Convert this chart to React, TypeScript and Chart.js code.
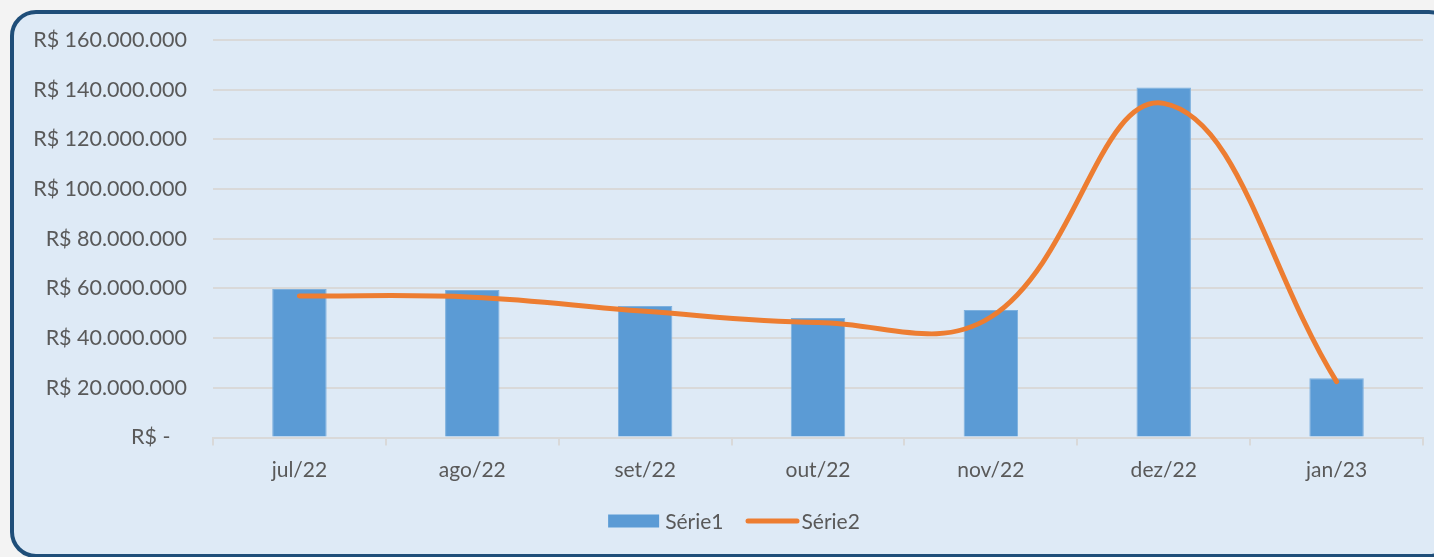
import React, { useEffect, useRef } from "react";
import { Chart, registerables } from "chart.js";

Chart.register(...registerables);

const categories = ["jul/22", "ago/22", "set/22", "out/22", "nov/22", "dez/22", "jan/23"];
const serie1 = [59.8e6, 59.4e6, 52.9e6, 48.1e6, 51.3e6, 140.9e6, 23.8e6];
const serie2 = [57.0e6, 56.5e6, 50.8e6, 46.3e6, 48.5e6, 134.5e6, 22.5e6];
const seriesNames = ["Série1", "Série2"];
const yMin = 0;
const yMax = 160e6;
const yStep = 20e6;

const FONT = "Lato, 'Open Sans', sans-serif";
const TEXT = "#595959";
const GRID = "#D9D9D9";
const BAR = "#5B9BD5";
const LINE = "#ED7D31";

function fmt(v: number): string {
  if (v === 0) return "R$ -   ";
  return "R$ " + Math.round(v).toString().replace(/\B(?=(\d{3})+(?!\d))/g, ".");
}

const legendPlugin = {
  id: "excelLegend",
  afterDraw(chart: any) {
    const ctx = chart.ctx;
    const ds = chart.data.datasets;
    const bar = ds.find((d: any) => d.type === "bar");
    const line = ds.find((d: any) => d.type === "line");
    ctx.save();
    ctx.font = `21px ${FONT}`;
    ctx.textBaseline = "middle";
    ctx.fillStyle = TEXT;
    const y = 521;
    const boxW = 51;
    const lineW = 54;
    const gapText = 6;
    const gapItems = 22;
    const t1 = ctx.measureText(bar.label).width;
    const t2 = ctx.measureText(line.label).width;
    const total = boxW + gapText + t1 + gapItems + lineW + gapText + t2;
    let x = 736 - total / 2;
    ctx.fillStyle = bar.backgroundColor;
    ctx.fillRect(x, y - 6.5, boxW, 13);
    x += boxW + gapText;
    ctx.fillStyle = TEXT;
    ctx.fillText(bar.label, x, y + 1);
    x += t1 + gapItems;
    ctx.strokeStyle = line.borderColor;
    ctx.lineWidth = 5;
    ctx.lineCap = "round";
    ctx.beginPath();
    ctx.moveTo(x + 2.5, y);
    ctx.lineTo(x + lineW - 2.5, y);
    ctx.stroke();
    x += lineW + 2;
    ctx.fillStyle = TEXT;
    ctx.fillText(line.label, x, y + 1);
    ctx.restore();
  },
};

export default function App() {
  const ref = useRef<HTMLCanvasElement | null>(null);

  useEffect(() => {
    if (!ref.current) return;
    const chart = new Chart(ref.current, {
      type: "bar",
      data: {
        labels: categories,
        datasets: [
          {
            type: "line",
            label: seriesNames[1],
            data: serie2,
            borderColor: LINE,
            backgroundColor: LINE,
            borderWidth: 5,
            tension: 0.4,
            pointRadius: 0,
            borderCapStyle: "round",
            borderJoinStyle: "round",
            order: 0,
          } as any,
          {
            type: "bar",
            label: seriesNames[0],
            data: serie1,
            backgroundColor: BAR,
            borderColor: "#7DB0DE",
            borderWidth: 1,
            barPercentage: 0.315,
            categoryPercentage: 1,
            order: 1,
          } as any,
        ],
      },
      options: {
        responsive: false,
        animation: false,
        layout: { padding: { left: 0, right: 11, top: 40, bottom: 75.5 } },
        plugins: { legend: { display: false }, tooltip: { enabled: false } },
        scales: {
          x: {
            grid: {
              display: true,
              drawOnChartArea: false,
              drawTicks: true,
              tickLength: 8,
              color: GRID,
              lineWidth: 2,
              offset: true,
            },
            border: { color: GRID, width: 2 },
            ticks: { color: TEXT, font: { family: FONT, size: 21 }, padding: 12, maxRotation: 0 },
            afterFit: (s: any) => {
              s.height = 44;
            },
          },
          y: {
            min: yMin,
            max: yMax,
            ticks: {
              stepSize: yStep,
              callback: (v: any) => fmt(Number(v)),
              color: TEXT,
              font: { family: FONT, size: 21.5 },
              padding: 26,
            },
            grid: { color: GRID, lineWidth: 2, drawTicks: false },
            border: { display: false },
            afterFit: (s: any) => {
              s.width = 213;
            },
          },
        },
      } as any,
      plugins: [legendPlugin],
    });
    return () => chart.destroy();
  }, []);

  return (
    <div style={{ position: "fixed", left: 0, top: 0, width: 1434, height: 557, overflow: "hidden", background: "#F3F3F3" }}>
      <div
        style={{
          position: "absolute",
          left: 10,
          top: 10,
          width: 1445,
          height: 548,
          boxSizing: "border-box",
          border: "4px solid #1F4E79",
          borderRadius: 26,
          background: "#DEEAF6",
        }}
      />
      <canvas ref={ref} width={1434} height={557} style={{ position: "absolute", left: 0, top: 0, width: 1434, height: 557 }} />
    </div>
  );
}
